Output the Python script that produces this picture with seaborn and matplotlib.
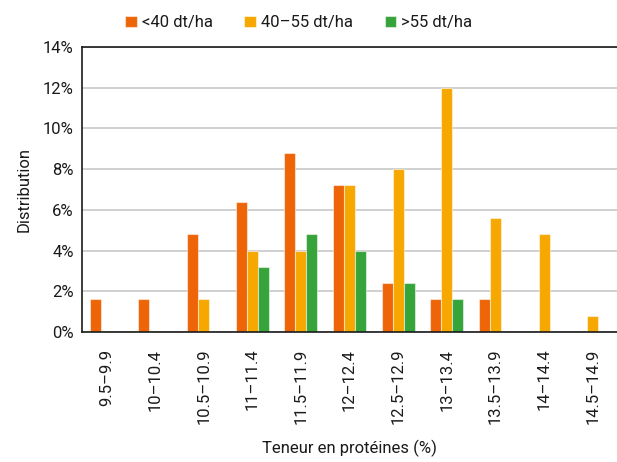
import matplotlib
matplotlib.use("Agg")
import matplotlib.pyplot as plt
import seaborn as sns
import pandas as pd
from matplotlib.ticker import MultipleLocator, FuncFormatter

categories = ["9.5–9.9", "10–10.4", "10.5–10.9", "11–11.4", "11.5–11.9", "12–12.4",
              "12.5–12.9", "13–13.4", "13.5–13.9", "14–14.4", "14.5–14.9"]
series_names = ["<40 dt/ha", "40–55 dt/ha", ">55 dt/ha"]
low_yield = [1.6, 1.6, 4.8, 6.4, 8.8, 7.2, 2.4, 1.6, 1.6, 0.0, 0.0]
mid_yield = [0.0, 0.0, 1.6, 4.0, 4.0, 7.2, 8.0, 12.0, 5.6, 4.8, 0.8]
high_yield = [0.0, 0.0, 0.0, 3.2, 4.8, 4.0, 2.4, 1.6, 0.0, 0.0, 0.0]
colors = ["#EE6508", "#F7A800", "#36A33B"]

rows = []
for name, vals in zip(series_names, [low_yield, mid_yield, high_yield]):
    for cat, v in zip(categories, vals):
        rows.append({"Classe": cat, "Rendement": name, "Valeur": v})
df = pd.DataFrame(rows)

sns.set_theme(style="white")
plt.rcParams["font.family"] = ["Roboto", "DejaVu Sans"]
fs = 12

fig = plt.figure(figsize=(6.17, 4.62), dpi=100)
ax = fig.add_axes([0.133, 0.2814, 0.867, 0.617])

sns.barplot(data=df, x="Classe", y="Valeur", hue="Rendement", order=categories,
            hue_order=series_names, palette=colors, width=0.68, saturation=1,
            edgecolor=(1, 1, 1, 0.5), linewidth=0.8, ax=ax, errorbar=None)

ax.set_ylim(0, 14)
ax.yaxis.set_major_locator(MultipleLocator(2))
ax.yaxis.set_major_formatter(FuncFormatter(lambda v, p: f"{v:.0f}%"))
ax.grid(axis="y", color="#c8c8c8", linewidth=1.2)
ax.set_axisbelow(True)
for side in ["left", "bottom", "top"]:
    ax.spines[side].set_color("#1a1a1a")
    ax.spines[side].set_linewidth(1.2)
ax.spines["right"].set_visible(False)

ax.tick_params(axis="x", rotation=90, labelsize=fs, length=0, pad=12, labelcolor="#1a1a1a")
ax.tick_params(axis="y", labelsize=fs, length=0, pad=6, labelcolor="#1a1a1a")
ax.set_xlabel("Teneur en protéines (%)", fontsize=fs, labelpad=11, color="#1a1a1a")
ax.set_ylabel("Distribution", fontsize=fs, labelpad=8, color="#1a1a1a")

ax.legend(loc="center", bbox_to_anchor=(0.405, 1.085), ncol=3, frameon=False,
          fontsize=fs, handlelength=0.7, handleheight=0.7, handletextpad=0.3,
          columnspacing=1.9, labelcolor="#1a1a1a")

fig.savefig("out.png", dpi=100)
